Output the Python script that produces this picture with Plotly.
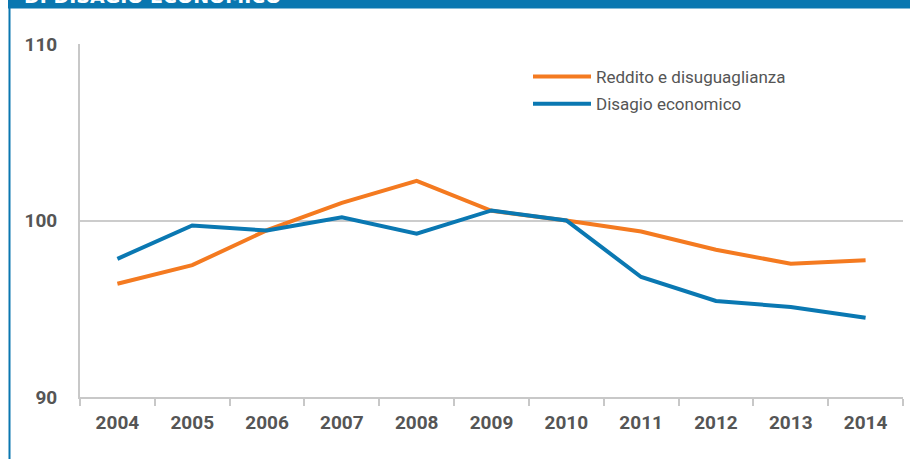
import plotly.graph_objects as go

years = ["2004", "2005", "2006", "2007", "2008", "2009", "2010", "2011", "2012", "2013", "2014"]
reddito = [96.42, 97.47, 99.45, 101.0, 102.25, 100.55, 100.0, 99.38, 98.34, 97.55, 97.75]
disagio = [97.83, 99.72, 99.43, 100.18, 99.25, 100.57, 100.0, 96.8, 95.44, 95.1, 94.49]
name_reddito = "Reddito e disuguaglianza"
name_disagio = "Disagio economico"
title_text = "DI DISAGIO ECONOMICO"

ORANGE = "#f47a20"
BLUE = "#0a78b2"
FRAME = "#0a77b0"
GRID = "#cccccc"
TXT = "#555555"
FONT = "Roboto, sans-serif"

W, H = 910, 459
ML, MR, MT, MB = 80, 7, 44, 62
PW, PH = W - ML - MR, H - MT - MB

def px(xp):
    return (xp - ML) / PW

def py(yp):
    return 1 - (yp - MT) / PH

fig = go.Figure()
fig.add_trace(go.Scatter(x=years, y=reddito, mode="lines", name=name_reddito,
                         line=dict(color=ORANGE, width=4), legendgroup="a"))
fig.add_trace(go.Scatter(x=years, y=disagio, mode="lines", name=name_disagio,
                         line=dict(color=BLUE, width=4), legendgroup="b"))

fig.update_layout(
    width=W, height=H,
    margin=dict(l=ML, r=MR, t=MT, b=MB),
    paper_bgcolor="white", plot_bgcolor="white",
    font=dict(family=FONT, color=TXT),
    showlegend=True,
    legend=dict(x=px(528), y=py(59), xanchor="left", yanchor="top",
                font=dict(family=FONT, size=17, color=TXT),
                itemwidth=58,
                bgcolor="rgba(0,0,0,0)", tracegroupgap=2),
    xaxis=dict(type="category", tickson="boundaries", ticks="outside", ticklen=7,
               tickcolor="#c8c8c8", tickwidth=1.5, showline=True, linecolor="#c8c8c8",
               linewidth=2, showgrid=False, zeroline=False,
               tickfont=dict(family=FONT, size=19, color=TXT, weight="bold"),
               ticklabelstandoff=7, range=[-0.5, 10.5]),
    yaxis=dict(range=[90, 110], dtick=10, tick0=90, showgrid=True, gridcolor=GRID,
               gridwidth=2, zeroline=False, showline=True, linecolor="#c8c8c8",
               linewidth=2, tickfont=dict(family=FONT, size=19, color=TXT, weight="bold"),
               ticklabelstandoff=17),
    shapes=[
        dict(type="rect", xref="paper", yref="paper", x0=px(8), x1=px(911),
             y0=py(8.5), y1=py(-2), fillcolor=FRAME, line=dict(width=0), layer="below"),
        dict(type="rect", xref="paper", yref="paper", x0=px(8.5), x1=px(10.5),
             y0=py(460), y1=py(-2), fillcolor=FRAME, line=dict(width=0), layer="above"),
    ],
    annotations=[
        dict(text=title_text, xref="paper", yref="paper", x=px(22), y=py(8.5),
             xanchor="left", yanchor="bottom", showarrow=False,
             font=dict(family="DejaVu Sans", size=19, color="white", weight="bold")),
    ],
)

fig.write_html("out.html", config={"displayModeBar": False},
               post_script="document.body.style.margin='0';")
